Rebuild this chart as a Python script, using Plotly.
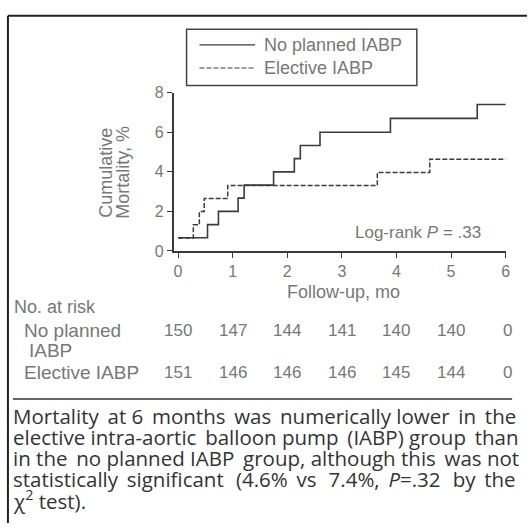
import plotly.graph_objects as go

W, H = 531, 532

# ---- data ----
series_names = ["No planned IABP", "Elective IABP"]
no_planned_t = [0, 0.54, 0.74, 1.10, 1.21, 1.75, 2.13, 2.24, 2.60, 3.89, 5.48, 6.0]
no_planned_y = [0.67, 1.33, 2.0, 2.67, 3.33, 4.0, 4.67, 5.33, 6.0, 6.7, 7.4, 7.4]
elective_t = [0, 0.28, 0.39, 0.48, 0.91, 3.65, 4.61, 6.0]
elective_y = [0.66, 1.32, 1.99, 2.65, 3.31, 3.97, 4.64, 4.64]
x_ticks = [0, 1, 2, 3, 4, 5, 6]
y_ticks = [0, 2, 4, 6, 8]
risk_no_planned = [150, 147, 144, 141, 140, 140, 0]
risk_elective = [151, 146, 146, 146, 145, 144, 0]
caption_lines = [
    "Mortality at 6 months was numerically lower in the",
    "elective intra-aortic balloon pump (IABP) group than",
    "in the no planned IABP group, although this was not",
    "statistically significant (4.6% vs 7.4%, <i>P</i>=.32 by the",
    "χ<sup>2</sup> test).",
]
# extra thin spaces per caption line to imitate the justified column
justify_extra = [6, 3, 3, 10, 0]

FONT = "Liberation Sans"
LINE = "#3a3a3a"
TXT = "#777777"


def px(x):
    return x / W


def py(y):
    return 1 - y / H


def justify(line, n):
    words = line.split(" ")
    gaps = len(words) - 1
    if n <= 0 or gaps <= 0:
        return line
    counts = [0] * gaps
    for i in range(n):
        counts[int((i + 0.5) * gaps / n) % gaps] += 1
    out = words[0]
    for g in range(gaps):
        out += " " + "\u2009" * counts[g] + words[g + 1]
    return out


fig = go.Figure()
fig.add_trace(go.Scatter(x=no_planned_t, y=no_planned_y, mode="lines", name=series_names[0],
                         line=dict(shape="hv", color=LINE, width=1.6), showlegend=False))
fig.add_trace(go.Scatter(x=elective_t, y=elective_y, mode="lines", name=series_names[1],
                         line=dict(shape="hv", color=LINE, width=1.5, dash="5px,2px"), showlegend=False))

x0_px, x_end_px = 175, 510
y0_px, y_top_px = 251, 87.5
fig.update_layout(
    width=W, height=H, margin=dict(l=0, r=0, t=0, b=0),
    paper_bgcolor="white", plot_bgcolor="white",
    xaxis=dict(domain=[px(x0_px), px(x_end_px)], range=[-0.08, 6.01],
               tickvals=x_ticks, ticks="outside", ticklen=5, tickcolor=LINE,
               showline=True, linecolor=LINE, linewidth=1.5, showgrid=False, zeroline=False,
               tickfont=dict(family=FONT, size=16, color=TXT)),
    yaxis=dict(domain=[py(y0_px), py(y_top_px)], range=[0, 8],
               tickvals=y_ticks, ticks="outside", ticklen=5, tickcolor=LINE,
               showline=True, linecolor=LINE, linewidth=1.5, showgrid=False, zeroline=False,
               tickfont=dict(family=FONT, size=16, color=TXT)),
    showlegend=False,
)

ann = []
shapes = []


def text(x, y, s, size=15, color=TXT, xanchor="left", family=FONT, angle=0):
    ann.append(dict(x=px(x), y=py(y), xref="paper", yref="paper", text=s, showarrow=False,
                    xanchor=xanchor, yanchor="middle", textangle=angle,
                    font=dict(family=family, size=size, color=color)))


# y title
text(106, 170, "Cumulative", size=18, xanchor="center", angle=-90)
text(123, 170, "Mortality, %", size=18, xanchor="center", angle=-90)
# x title
text(346, 293, "Follow-up, mo", size=18, xanchor="center")
# log rank
text(421, 232, "Log-rank <i>P</i> = .33", size=17, xanchor="center")

# legend
shapes.append(dict(type="rect", xref="paper", yref="paper", x0=px(188), x1=px(420), y0=py(22), y1=py(80),
                   line=dict(color="#444", width=1.5)))
shapes.append(dict(type="line", xref="paper", yref="paper", x0=px(201), x1=px(257), y0=py(38), y1=py(38),
                   line=dict(color=LINE, width=1.2)))
shapes.append(dict(type="line", xref="paper", yref="paper", x0=px(201), x1=px(257), y0=py(62), y1=py(62),
                   line=dict(color=LINE, width=1.2, dash="5px,2px")))
text(264, 38, series_names[0], size=18)
text(264, 62, series_names[1], size=18)

# at risk table
text(12, 309, "No. at risk", size=18)
text(22, 333, "No planned", size=19)
text(27, 354, "IABP", size=19)
text(22, 377, "Elective IABP", size=19)
for i, t in enumerate(x_ticks):
    xp = 179.5 + 55 * t + (2 if t == 6 else 0)
    text(xp, 333, str(risk_no_planned[i]), size=17, xanchor="center")
    text(xp, 377, str(risk_elective[i]), size=17, xanchor="center")

# separator and border
shapes.append(dict(type="line", xref="paper", yref="paper", x0=px(13), x1=px(516), y0=py(404), y1=py(404),
                   line=dict(color="#333", width=1.5)))
shapes.append(dict(type="line", xref="paper", yref="paper", x0=px(8), x1=px(8), y0=py(8), y1=py(532),
                   line=dict(color="#222", width=2)))
shapes.append(dict(type="line", xref="paper", yref="paper", x0=px(8), x1=px(531), y0=py(8), y1=py(8),
                   line=dict(color="#222", width=2)))

# caption
for k, line in enumerate(caption_lines):
    text(11, 421 + 21.8 * k, justify(line, justify_extra[k]), size=20.5, color="#333333", family="Open Sans")

fig.update_layout(annotations=ann, shapes=shapes)
fig.write_html("out.html")
